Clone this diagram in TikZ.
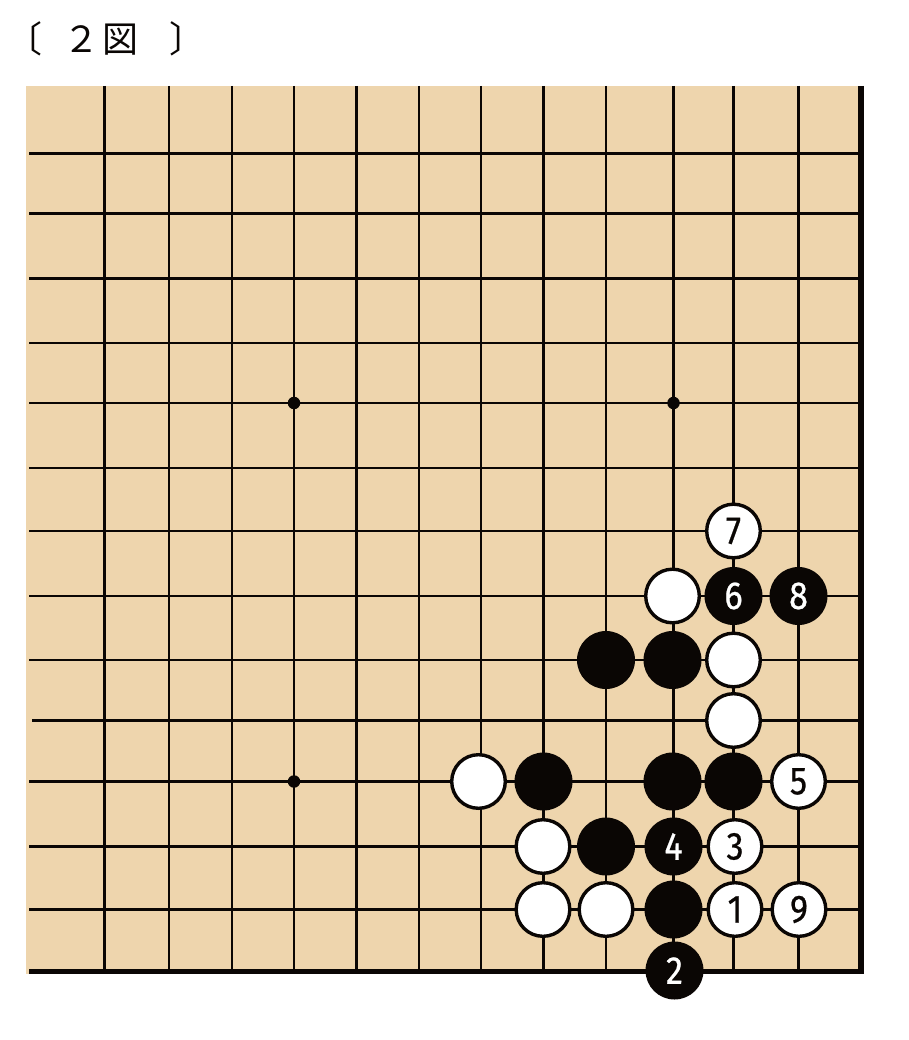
\documentclass[tikz,border=0pt]{standalone}
\usepackage{fontspec}
\newfontfamily\cjkfont{Noto Sans CJK JP}
\newfontfamily\numfont[FakeStretch=0.88,FakeBold=0.6]{Fira Sans}
\definecolor{board}{RGB}{238,213,173}
\definecolor{ink}{RGB}{10,6,4}
\begin{document}
\begin{tikzpicture}[x=1pt,y=-1pt,
  gridline/.style={line width=2.1pt, draw=ink},
  edgeline/.style={line width=5.6pt, draw=ink},
  numtext/.style={font=\numfont\fontsize{39}{39}\selectfont},
  bst/.style={circle, fill=ink, minimum size=58pt, inner sep=0pt, text=white, numtext},
  wst/.style={circle, fill=white, draw=ink, line width=3.4pt, minimum size=53.6pt, inner sep=0pt, text=ink, numtext},
  starpt/.style={circle, fill=ink, minimum size=12.5pt, inner sep=0pt},
  titletext/.style={font=\cjkfont\fontsize{36}{36}\selectfont, anchor=base, inner sep=0pt, text=ink}]
\useasboundingbox (0,0) rectangle (908,1040);
% board
\fill[board] (25.5,86) rectangle (864,973.5);
\foreach \x in {104.5,169,232,294,356.5,419,481,543.5,606,673.5,733.5,798.5}
  \draw[gridline] (\x,86) -- (\x,971);
\foreach \y in {153.5,213.5,278.5,343,403,468,531,596,660,781.5,846.5,909.5}
  \draw[gridline] (29,\y) -- (861,\y);
\draw[gridline] (32,720.5) -- (861,720.5);
\draw[edgeline] (29,971.3) -- (864,971.3);
\draw[edgeline] (861,86) -- (861,974);
% star points
\node[starpt] (s1) at (294,403) {};
\node[starpt] (s2) at (673.5,403) {};
\node[starpt] (s3) at (294,781.5) {};
% stones
\node[wst] (w7) at (733.5,531) {7};
\node[wst] (wa) at (672.5,596) {};
\node[bst] (b6) at (733.5,596) {6};
\node[bst] (b8) at (798.5,596) {8};
\node[bst] (ba) at (606,660) {};
\node[bst] (bb) at (672.5,660) {};
\node[wst] (wb) at (733.5,660) {};
\node[wst] (wc) at (733.5,720.5) {};
\node[wst] (wd) at (478.5,781.5) {};
\node[bst] (bc) at (543.5,781.5) {};
\node[bst] (bd) at (672.5,781.5) {};
\node[bst] (be) at (733.5,781.5) {};
\node[wst] (w5) at (798.5,781.5) {5};
\node[wst] (we) at (543,846.5) {};
\node[bst] (bf) at (606,846.5) {};
\node[bst] (b4) at (673.5,846.5) {4};
\node[wst] (w3) at (735,846.5) {3};
\node[wst] (wf) at (543,909.5) {};
\node[wst] (wg) at (606,909.5) {};
\node[bst] (bg) at (673.5,909.5) {};
\node[wst] (w1) at (735,909.5) {1};
\node[wst] (w9) at (799,909.5) {9};
\node[bst] (b2) at (674.5,970.5) {2};
% title
\node[titletext] (lb) at (24,53) {〔};
\node[titletext] (two) at (81,53) {２};
\node[titletext] (zu) at (120,53) {図};
\node[titletext] (rb) at (187,53) {〕};
\end{tikzpicture}
\end{document}
